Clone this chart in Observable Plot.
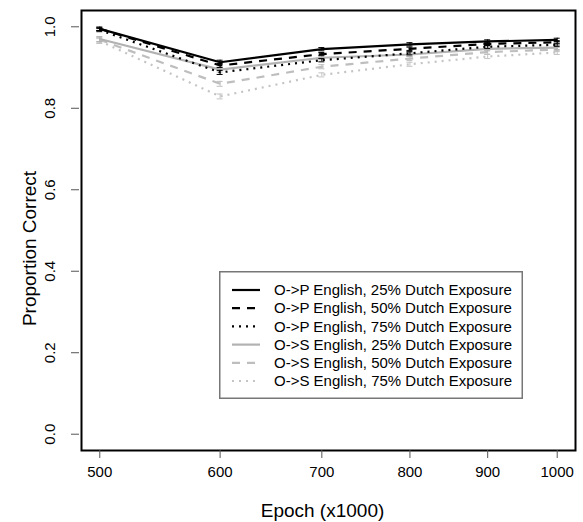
<!DOCTYPE html>
<html>
<head>
<meta charset="utf-8">
<script src="https://cdn.jsdelivr.net/npm/d3@7"></script>
<script src="https://cdn.jsdelivr.net/npm/@observablehq/plot@0.6"></script>
<style>
  html, body { margin: 0; padding: 0; background: #fff; }
  #wrap { position: relative; width: 583px; height: 522px; font-family: "Liberation Sans", Arial, sans-serif; }
  #legend { position: absolute; left: 219px; top: 271px; }
</style>
</head>
<body>
<div id="wrap"><div id="legend"></div></div>
<script>
// Training epochs (thousands)
const epochs = [500, 600, 700, 800, 900, 1000];
const yTicks = [0, 0.2, 0.4, 0.6, 0.8, 1.0];

// Proportion correct per condition
const opEng25 = [0.995, 0.913, 0.945, 0.957, 0.964, 0.968];
const opEng50 = [0.995, 0.905, 0.933, 0.946, 0.958, 0.962];
const opEng75 = [0.992, 0.888, 0.918, 0.935, 0.951, 0.956];
const osEng25 = [0.970, 0.895, 0.924, 0.932, 0.946, 0.949];
const osEng50 = [0.968, 0.860, 0.902, 0.922, 0.938, 0.944];
const osEng75 = [0.965, 0.829, 0.882, 0.908, 0.927, 0.937];

// Standard errors
const seOpEng25 = [0.004, 0.005, 0.004, 0.004, 0.004, 0.004];
const seOpEng50 = [0.004, 0.005, 0.004, 0.004, 0.004, 0.004];
const seOpEng75 = [0.004, 0.005, 0.004, 0.004, 0.004, 0.004];
const seOsEng25 = [0.006, 0.006, 0.005, 0.005, 0.005, 0.005];
const seOsEng50 = [0.006, 0.006, 0.005, 0.005, 0.005, 0.005];
const seOsEng75 = [0.006, 0.006, 0.005, 0.005, 0.005, 0.005];

const seriesNames = [
  "O->P English, 25% Dutch Exposure",
  "O->P English, 50% Dutch Exposure",
  "O->P English, 75% Dutch Exposure",
  "O->S English, 25% Dutch Exposure",
  "O->S English, 50% Dutch Exposure",
  "O->S English, 75% Dutch Exposure"
];
const seriesValues = [opEng25, opEng50, opEng75, osEng25, osEng50, osEng75];
const seriesErrors = [seOpEng25, seOpEng50, seOpEng75, seOsEng25, seOsEng50, seOsEng75];
const seriesColors = ["#000000", "#000000", "#000000", "#b2b2b2", "#bebebe", "#c4c4c4"];
const seriesDash = [null, "8,7", "2,5", null, "8,7", "2,5"];

const series = seriesNames.map((name, i) => ({
  name,
  color: seriesColors[i],
  dash: seriesDash[i],
  rows: epochs.map((e, j) => ({
    epoch: e,
    value: seriesValues[i][j],
    lo: seriesValues[i][j] - seriesErrors[i][j],
    hi: seriesValues[i][j] + seriesErrors[i][j]
  }))
}));

// Padded domains (4% on each side)
const logPad = Math.pow(2, 0.04);
const xDomain = [500 / logPad, 1000 * logPad];
const yDomain = [-0.04, 1.04];

const marks = [];
// draw grey series first so the black ones sit on top
for (const s of [...series].reverse()) {
  marks.push(Plot.ruleX(s.rows, {x: "epoch", y1: "lo", y2: "hi", stroke: s.color, strokeWidth: 1}));
  marks.push(Plot.ruleY(s.rows, {y: "lo", x1: "epoch", x2: "epoch", insetLeft: -3, insetRight: -3, stroke: s.color, strokeWidth: 1}));
  marks.push(Plot.ruleY(s.rows, {y: "hi", x1: "epoch", x2: "epoch", insetLeft: -3, insetRight: -3, stroke: s.color, strokeWidth: 1}));
  marks.push(Plot.line(s.rows, {
    x: "epoch", y: "value", stroke: s.color, strokeWidth: 2.2,
    strokeDasharray: s.dash || undefined, strokeLinejoin: "miter", strokeLinecap: "butt"
  }));
}

const chart = Plot.plot({
  width: 583,
  height: 522,
  marginLeft: 81,
  marginRight: 8,
  marginTop: 10,
  marginBottom: 72,
  style: {fontFamily: "'Liberation Sans', Arial, sans-serif", fontSize: "15px", color: "#000", background: "#fff"},
  x: {type: "log", domain: xDomain, axis: null},
  y: {domain: yDomain, axis: null},
  marks: [
    ...marks,
    Plot.frame({stroke: "#000", strokeWidth: 2}),
    Plot.axisX(epochs, {
      ticks: epochs, tickSize: 8, tickPadding: 8, tickFormat: d => String(d),
      fontSize: 15, stroke: "#555", label: null
    }),
    Plot.axisY(yTicks, {
      ticks: yTicks, tickSize: 8, tickFormat: () => "", dx: -2, stroke: "#555", label: null
    }),
    Plot.text(yTicks, {
      y: d => d, text: d => d3.format(".1f")(d), frameAnchor: "left",
      dx: -31, rotate: -90, textAnchor: "middle", lineAnchor: "middle", fontSize: 15
    }),
    Plot.text(["Epoch (x1000)"], {
      frameAnchor: "bottom", dy: 60, dx: -6, textAnchor: "middle", lineAnchor: "middle", fontSize: 19
    }),
    Plot.text(["Proportion Correct"], {
      frameAnchor: "left", dx: -52, dy: 18, rotate: -90, textAnchor: "middle", lineAnchor: "middle", fontSize: 19
    })
  ]
});

document.getElementById("wrap").prepend(chart);

// Legend box inside the plotting area
const lg = d3.select("#legend").append("svg")
  .attr("width", 304).attr("height", 128)
  .style("font-family", "'Liberation Sans', Arial, sans-serif");
lg.append("rect").attr("x", 0.75).attr("y", 0.75).attr("width", 302.5).attr("height", 126.5)
  .attr("fill", "#fff").attr("stroke", "#777").attr("stroke-width", 1.5);
series.forEach((s, i) => {
  const cy = 19 + i * 18.2;
  lg.append("line").attr("x1", 13).attr("x2", 41).attr("y1", cy).attr("y2", cy)
    .attr("stroke", s.color).attr("stroke-width", 2.2)
    .attr("stroke-dasharray", s.dash || null);
  lg.append("text").attr("x", 55).attr("y", cy).attr("dy", "0.35em")
    .attr("font-size", 15).attr("fill", "#000").text(s.name);
});
</script>
</body>
</html>
